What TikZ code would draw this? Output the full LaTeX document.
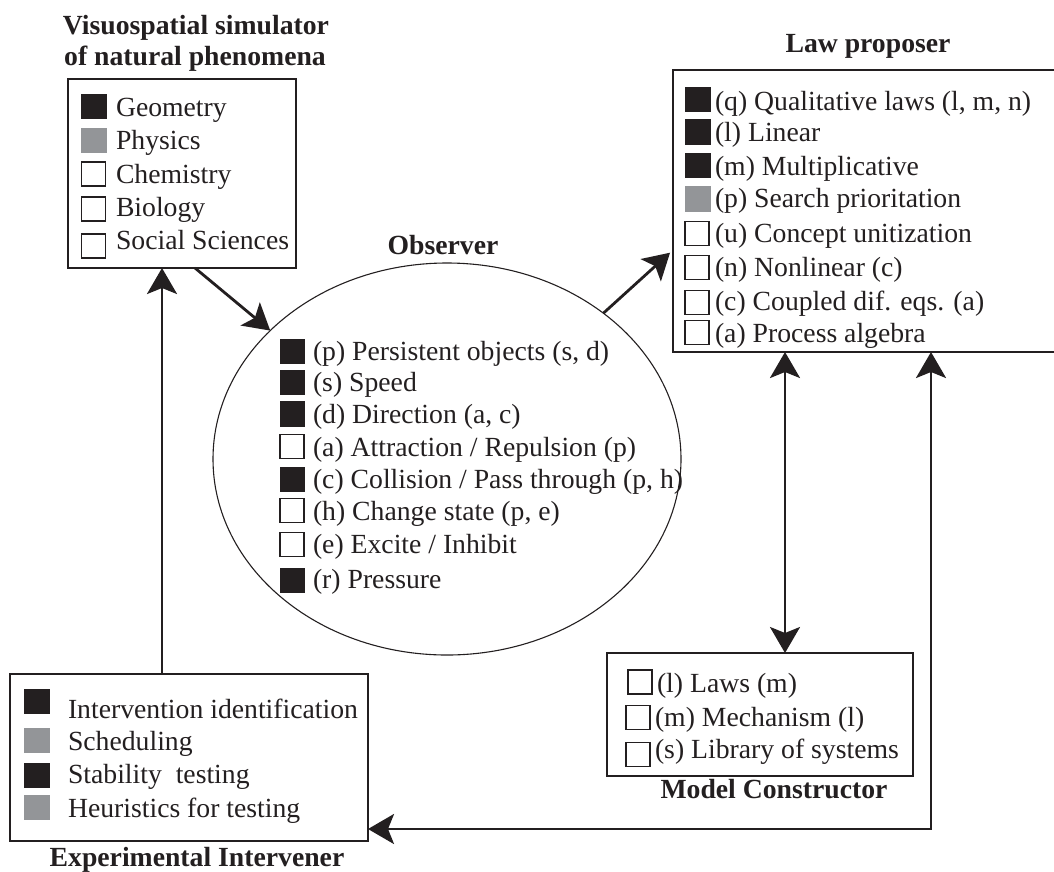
\documentclass[tikz,border=0pt]{standalone}
\usepackage{fontspec}
\setmainfont{Liberation Serif}
\usetikzlibrary{arrows.meta,shapes.geometric}
\definecolor{ink}{HTML}{231F20}
\definecolor{gry}{HTML}{939598}
\begin{document}
\begin{tikzpicture}[x=1pt,y=-1pt,
  font=\fontsize{27.7pt}{33pt}\selectfont, text=ink,
  box/.style={draw=ink, line width=1.3pt, inner sep=0pt, outer sep=0pt},
  lbl/.style={anchor=base west, inner sep=0pt, outer sep=0pt},
  ttl/.style={anchor=base, inner sep=0pt, font=\fontsize{27.7pt}{33pt}\selectfont\bfseries},
  sqb/.style={fill=ink, draw=ink, line width=0.4pt, minimum size=24.5pt, inner sep=0pt},
  sqg/.style={fill=gry, draw=gry, line width=0.4pt, minimum size=24.5pt, inner sep=0pt},
  sqw/.style={fill=white, draw=ink, line width=1.3pt, minimum size=24pt, inner sep=0pt},
  arr/.style={draw=ink, line width=2.8pt, -{Stealth[length=26pt,width=30pt,inset=6pt]}},
  arrb/.style={draw=ink, line width=2.8pt, line join=miter, {Stealth[length=26pt,width=30pt,inset=6pt]}-{Stealth[length=26pt,width=30pt,inset=6pt]}},
]
\useasboundingbox (0,0) rectangle (1054,871);
\clip (0,0) rectangle (1054,871);

% ---------- Visuospatial simulator ----------
\node[ttl] (vist1) at (196,34) {Visuospatial simulator};
\node[ttl] (vist2) at (195,65) {of natural phenomena};
\node[box, minimum width=228pt, minimum height=189pt] (vis) at (182,173.5) {};
\node[sqb] (vs1) at (93.5,106) {};
\node[lbl] (v1) at (116,116) {Geometry};
\node[sqg] (vs2) at (93.5,140) {};
\node[lbl] (v2) at (116,149) {Physics};
\node[sqw] (vs3) at (93.5,174) {};
\node[lbl] (v3) at (116,183) {Chemistry};
\node[sqw] (vs4) at (93.5,209) {};
\node[lbl] (v4) at (116,216) {Biology};
\node[sqw] (vs5) at (93.5,246) {};
\node[lbl] (v5) at (116,249) {Social Sciences};

% ---------- Law proposer ----------
\node[ttl] (lawt) at (868,52) {Law proposer};
\node[box, minimum width=397pt, minimum height=282pt] (law) at (871.5,211) {};
\node[sqb] (ls1) at (697.5,99) {};
\node[lbl] (l1) at (715,110) {(q) Qualitative laws (l, m, n)};
\node[sqb] (ls2) at (697.5,131.5) {};
\node[lbl] (l2) at (715,141) {(l) Linear};
\node[sqb] (ls3) at (697.5,165) {};
\node[lbl] (l3) at (715,175) {(m) Multiplicative};
\node[sqg] (ls4) at (697.5,198.5) {};
\node[lbl] (l4) at (715,207) {(p) Search prioritation};
\node[sqw] (ls5) at (697,233.5) {};
\node[lbl] (l5) at (715,242) {(u) Concept unitization};
\node[sqw] (ls6) at (697,267.5) {};
\node[lbl] (l6) at (715,276) {(n) Nonlinear (c)};
\node[sqw] (ls7) at (697,302.5) {};
\node[lbl] (l7) at (715,310) {(c) Coupled dif. eqs. (a)};
\node[sqw] (ls8) at (697,332.5) {};
\node[lbl] (l8) at (715,342) {(a) Process algebra};

% ---------- Observer ----------
\node[ttl] (obst) at (443,254) {Observer};
\node[draw=ink, line width=1.1pt, ellipse, minimum width=468pt, minimum height=392pt, inner sep=0pt, outer sep=0pt] (obs) at (447,459) {};
\node[sqb] (os1) at (292,351.3) {};
\node[lbl] (o1) at (313,360) {(p) Persistent objects (s, d)};
\node[sqb] (os2) at (292,382) {};
\node[lbl] (o2) at (313,391) {(s) Speed};
\node[sqb] (os3) at (292,413.7) {};
\node[lbl] (o3) at (313,423) {(d) Direction (a, c)};
\node[sqw] (os4) at (292,446.5) {};
\node[lbl] (o4) at (313,456) {(a) Attraction / Repulsion (p)};
\node[sqb] (os5) at (292,479.3) {};
\node[lbl] (o5) at (313,488) {(c) Collision / Pass through (p, h)};
\node[sqw] (os6) at (292,510.8) {};
\node[lbl] (o6) at (313,520) {(h) Change state (p, e)};
\node[sqw] (os7) at (292,544.5) {};
\node[lbl] (o7) at (313,553) {(e) Excite / Inhibit};
\node[sqb] (os8) at (292,580) {};
\node[lbl] (o8) at (313,588) {(r) Pressure};

% ---------- Model Constructor ----------
\node[box, minimum width=306pt, minimum height=123pt] (mc) at (760,714.5) {};
\node[sqw] (ms1) at (640,682) {};
\node[lbl] (m1) at (657,692) {(l) Laws (m)};
\node[sqw] (ms2) at (638,717.5) {};
\node[lbl] (m2) at (655,726) {(m) Mechanism (l)};
\node[sqw] (ms3) at (638,754.5) {};
\node[lbl] (m3) at (655,758) {(s) Library of systems};
\node[ttl] (mct) at (774,798) {Model Constructor};

% ---------- Experimental Intervener ----------
\node[box, minimum width=358pt, minimum height=167pt] (int) at (189,757.5) {};
\node[sqb] (is1) at (36.5,701) {};
\node[lbl] (i1) at (68,718) {Intervention identification};
\node[sqg] (is2) at (36.5,740) {};
\node[lbl] (i2) at (68,750) {Scheduling};
\node[sqb] (is3) at (36.5,775) {};
\node[lbl] (i3) at (68,783) {Stability~ testing};
\node[sqg] (is4) at (36.5,807) {};
\node[lbl] (i4) at (68,817) {Heuristics for testing};
\node[ttl] (intt) at (197,866) {Experimental Intervener};

% ---------- Connectors ----------
\coordinate (upx) at (162,0);
\coordinate (dblx) at (785,0);
\coordinate (corner) at (931,829);
\draw[arr] ([xshift=13pt]vis.south) -- (obs.144);
\draw[arr, shorten >=4pt] (obs.43) -- ([yshift=-39pt]law.west);
\draw[arr] (upx |- int.north) -- (upx |- vis.south);
\draw[arrb] (dblx |- law.south) -- (dblx |- mc.north);
\draw[arrb] (int.east |- corner) -- (corner) -- (corner |- law.south);
\end{tikzpicture}
\end{document}
